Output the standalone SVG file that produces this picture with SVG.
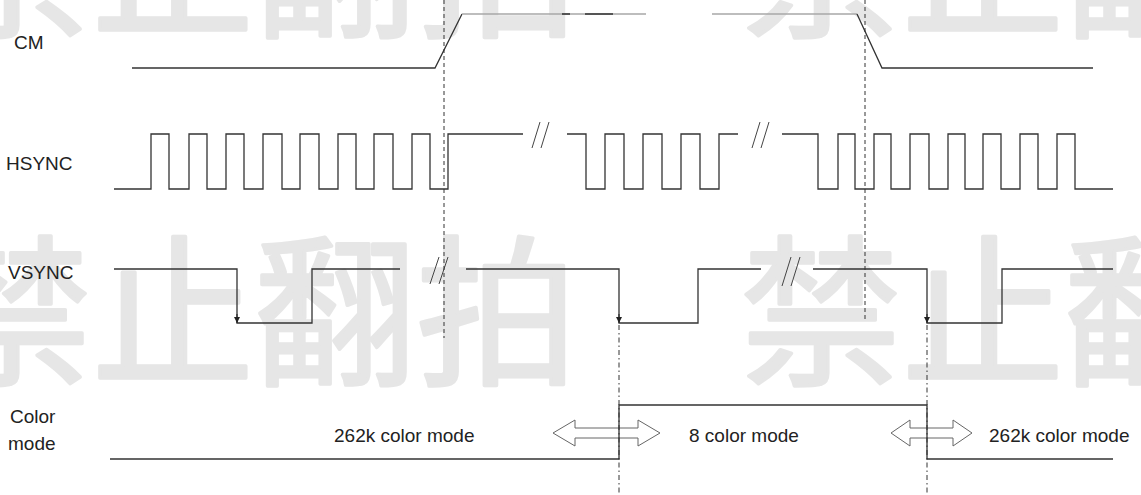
<svg xmlns="http://www.w3.org/2000/svg" width="1141" height="495" viewBox="0 0 1141 495">
<style>
.wm{font-family:"Noto Sans CJK SC","Noto Sans CJK JP",sans-serif;font-size:162px;fill:#e6e6e6;stroke:#e6e6e6;stroke-width:3.5;stroke-linejoin:round}
.lbl{font-family:"Liberation Sans",Arial,sans-serif;font-size:19px;fill:#222}
.sig{fill:none;stroke:#333;stroke-width:1.3}
.top{fill:none;stroke:#a8a8a8;stroke-width:1.3}
.brk{fill:none;stroke:#444;stroke-width:1}
.dash{fill:none;stroke:#333;stroke-width:1;stroke-dasharray:4 3}
.dd{fill:none;stroke:#333;stroke-width:1;stroke-dasharray:5 3 1.5 3}
.arr{fill:none;stroke:#666;stroke-width:1}
</style>
<defs>
<marker id="ah" viewBox="0 0 6 6" refX="6" refY="3" markerWidth="6" markerHeight="6" orient="auto" markerUnits="userSpaceOnUse">
<path d="M0,0 L6,3 L0,6 Z" fill="#222"/>
</marker>
</defs>
<rect width="1141" height="495" fill="#fff"/>
<g id="watermark">
<text class="wm" x="-70" y="25">禁止翻拍　禁止翻</text>
<text class="wm" x="-70" y="373">禁止翻拍　禁止翻</text>
</g>
<g id="labels">
<text class="lbl" x="14" y="49">CM</text>
<text class="lbl" x="6" y="170">HSYNC</text>
<text class="lbl" x="8" y="279">VSYNC</text>
<text class="lbl" x="10" y="423">Color</text>
<text class="lbl" x="8" y="450">mode</text>
</g>
<g id="cm">
<path class="sig" d="M132,68 H435 L462,14"/>
<path class="top" d="M462,14 H646 M712,14 H857"/>
<path class="sig" d="M562,14 H570 M585,14 H613"/>
<path class="sig" d="M857,14 L882,68 H1093"/>
</g>
<g id="hsync">
<path class="sig" d="M114,189 H151 V134 H169 V189 H189 V134 H207 V189 H226 V134 H244 V189 H263 V134 H282 V189 H300 V134 H319 V189 H338 V134 H356 V189 H374 V134 H393 V189 H412 V134 H430 V189 H448 V134 H523"/>
<path class="sig" d="M567,134 H586 V189 H605 V134 H624 V189 H643 V134 H662 V189 H681 V134 H700 V189 H719 V134 H738"/>
<path class="sig" d="M782,134 H818 V189 H838 V134 H855 V189 H874 V134 H891 V189 H910 V134 H929 V189 H948 V134 H965 V189 H983 V134 H1001 V189 H1020 V134 H1038 V189 H1057 V134 H1075 V189 H1113"/>
<path class="brk" d="M532,148 L540,122 M541,148 L549,122 M752,148 L760,122 M761,148 L769,122"/>
</g>
<g id="vsync">
<path class="sig" d="M114,269 H237 V323 H312 V269 H400"/>
<path class="sig" d="M466,269 H619 V323 H698 V269 H761"/>
<path class="sig" d="M813,269 H927 V323 H1002 V269 H1113"/>
<path class="brk" d="M430,284 L439,257 M439,284 L448,257 M782,286 L791,257 M791,286 L800,257"/>
</g>
<g id="colormode">
<path class="arr" d="M553,433 L575,420 L575,428 L638,428 L638,420 L660,433 L638,446 L638,438 L575,438 L575,446 Z"/>
<path class="arr" d="M891,433 L910,420 L910,428 L953,428 L953,420 L972,433 L953,446 L953,438 L910,438 L910,446 Z"/>
<path class="sig" d="M110,459 H619 V405 H927 V459 H1113"/>
<text class="lbl" x="334" y="442">262k color mode</text>
<text class="lbl" x="689" y="442">8 color mode</text>
<text class="lbl" x="989" y="442">262k color mode</text>
</g>
<g id="connectors">
<path class="dash" d="M444,0 V338"/>
<path class="dash" d="M865,0 V322"/>
<path class="dd" d="M619,325 V495"/>
<path class="dd" d="M927,325 V495"/>
<path class="sig" d="M237,314 V323" marker-end="url(#ah)"/>
<path class="sig" d="M619,314 V323" marker-end="url(#ah)"/>
<path class="sig" d="M927,314 V323" marker-end="url(#ah)"/>
</g>
</svg>
